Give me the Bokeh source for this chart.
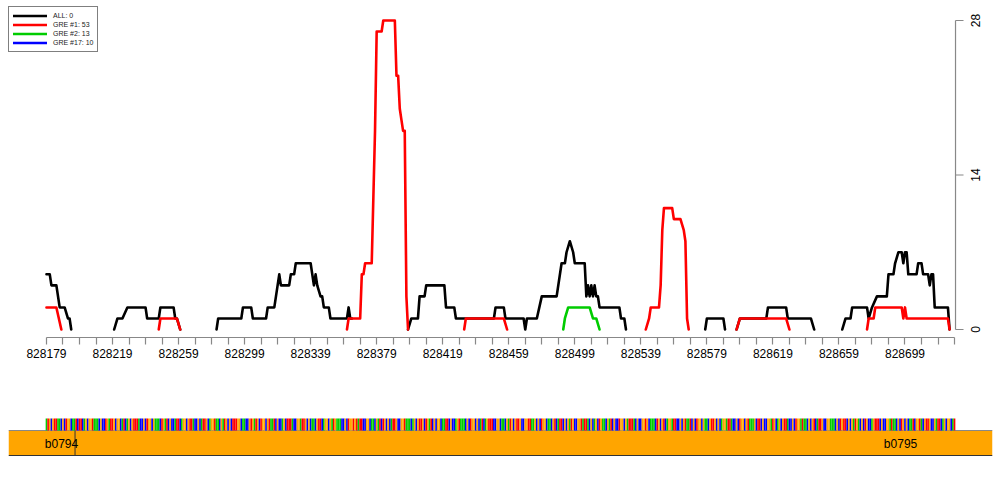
import numpy as np
from bokeh.plotting import figure
from bokeh.models import Range1d, LinearAxis, FixedTicker, Legend, LegendItem, ColumnDataSource
from bokeh.layouts import column
from bokeh.embed import file_html
from bokeh.resources import INLINE

FONT = "Liberation Sans"

# ---------------- data ----------------
REGION_START = 828179
REGION_END = 828729
VIEW_START = 828156.0
VIEW_END = 828752.0
Y_TICKS = [0, 14, 28]

# ALL (black) : positions / values, None = break
ALL_POS = [828179, 828181, 828182, 828185, 828187, 828190, 828192, 828193, 828194, None,
           828220, 828222, 828225, 828228, 828239, 828240, 828247, 828248, 828256, 828257, 828258, 828260, None,
           828282, 828283, 828297, 828298, 828303, 828304, 828312, 828313, 828317, 828318, 828319, 828320, 828321,
           828326, 828327, 828329, 828330, 828339, 828340, 828341, 828342, 828343, 828345, 828346, 828347,
           828350, 828351, 828360, 828361, 828362, 828363, 828364, None,
           828398, 828400, 828404, 828405, 828408, 828409, 828420, 828421, 828426, 828427, 828450, 828451,
           828456, 828457, 828468, 828469, 828470, 828476, 828479, 828488, 828491, 828493, 828494, 828496,
           828498, 828499, 828505, 828506, 828507, 828508, 828509, 828510, 828511, 828512, 828513, 828514,
           828526, 828527, 828529, 828530, None,
           828578, 828579, 828589, 828590, None,
           828597, 828599, 828615, 828616, 828627, 828628, 828642, 828644, None,
           828661, 828663, 828666, 828667, 828676, 828677, 828679, 828682, 828688, 828689, 828692, 828693,
           828695, 828697, 828698, 828699, 828700, 828701, 828706, 828707, 828709, 828710, 828713, 828714,
           828715, 828716, 828717, 828725, 828726]
ALL_VAL = [5, 5, 4, 4, 2, 2, 1, 1, 0, None,
           0, 1, 1, 2, 2, 1, 1, 2, 2, 1, 1, 0, None,
           0, 1, 1, 2, 2, 1, 1, 2, 2, 3, 4, 5, 4,
           4, 5, 5, 6, 6, 5, 4, 5, 4, 3, 3, 2,
           2, 1, 1, 1, 2, 1, 1, None,
           0, 1, 1, 3, 3, 4, 4, 2, 2, 1, 1, 2,
           2, 1, 1, 0, 1, 1, 3, 3, 6, 6, 7, 8,
           7, 6, 6, 3, 4, 3, 4, 3, 4, 3, 3, 2,
           2, 1, 1, 0, None,
           0, 1, 1, 0, None,
           0, 1, 1, 2, 2, 1, 1, 0, None,
           0, 1, 1, 2, 2, 1, 2, 3, 3, 5, 5, 6,
           7, 7, 6, 7, 7, 5, 5, 6, 6, 5, 5, 4,
           5, 5, 2, 2, 0]

# GRE #1 (red)
GRE1_POS = [828179, 828185, 828188, None,
            828247, 828248, 828258, 828260, None,
            828361, 828362, 828369, 828370, 828371, 828372, 828376, 828377, 828378, 828379, 828382, 828383,
            828390, 828391, 828392, 828393, 828394, 828395, 828396, 828397, 828398, None,
            828432, 828433, 828456, 828458, None,
            828542, 828544, 828545, 828550, 828551, 828552, 828553, 828558, 828559, 828563, 828565, 828566,
            828567, 828568, None,
            828597, 828599, 828627, 828629, None,
            828676, 828677, 828680, 828681, 828697, 828698, 828699, 828700, 828725, 828726]
GRE1_VAL = [2, 2, 0, None,
            0, 1, 1, 0, None,
            0, 1, 1, 5, 5, 6, 6, 12, 18, 27, 27, 28,
            28, 23, 23, 20, 19, 18, 18, 3, 0, None,
            0, 1, 1, 0, None,
            0, 1, 2, 2, 4, 9, 11, 11, 10, 10, 9, 8,
            1, 0, None,
            0, 1, 1, 0, None,
            0, 1, 1, 2, 2, 1, 2, 1, 1, 0]

# GRE #2 (green)
GRE2_POS = [828492, 828493, 828495, 828508, 828510, 828512, 828514]
GRE2_VAL = [0, 1, 2, 2, 1, 1, 0]

# GRE #17 (blue) - no visible trace in this window
GRE17_POS = [None]
GRE17_VAL = [None]

LEGEND_LABELS = ["ALL: 0", "GRE #1: 53", "GRE #2: 13", "GRE #17: 10"]
SERIES_COLORS = ["black", "red", "#00CC00", "blue"]

# sequence track
SEQ_LINES = [
    "ATGCGTTAAC GCTGGCAATC TTCAGCGGTA AACGCCTGAT TGCGGCATCA",
    "GCGTTTACCG CTGGCGAAAC TGATCGCCAT TCAGGCGTTA CCGCATTGCA",
    "GGTAACGATG CGCTTTGGCA ACCGTGATGC TGGCGTAATC GCCAGCTTTA",
    "CCGGATTGCG CAACGTTCAG GCGATGAAAC CGCTGGTGTA TTCCGGCAAC",
    "GATCTGCGCA TTGCCGGTAA ACAGCGTTGC TGATCGCGGC AATTCGCCAG",
    "TAAACGCTGG CGCATCAGTT TCCGGCAACG ATGCGTTGCC GGTTAAGCGC",
    "TGGCAACGTC ATTCGCGATG CCGGTATTAC GCAGCTGAAC GATCGCCTGG",
    "CGATTTACGC CGGTGCAAAC TGCGTCAGGA TTCCGCGTAA TCGCTGGCGA",
    "ACGTTGCGCA GGATTACCGC TGGCGTAAAG CTTCGCCGGA TGCAGCGTTA",
    "CCGCTGGATA ACGCGTCATT GCCGGAAACG CTGTTCGCGA TGACGCTGCC",
    "AGTTTCGCCG GATAACGCTG CGCAATCGGT ACGTTGCCGA TTCAGCGGCA",
    "T",
]
BASE_COLORS = {"A": "#00CC00", "C": "#0000FF", "G": "#FFA500", "T": "#FF0000"}

GENE_NAMES = ["b0794", "b0795"]
GENE_LABEL_POS = [828188.1, 828696.3]
GENE_BOUNDARY = 828196.3

# ---------------- top figure ----------------
def arr(v):
    return np.array(v, dtype=float)

PX_PER_BP = 1.6509
p = figure(width=1000, height=388,
           x_range=Range1d(VIEW_START, VIEW_END),
           y_range=Range1d(-0.725, 29.812),
           output_backend="svg", toolbar_location=None,
           x_axis_location=None, y_axis_location=None,
           min_border_left=8, min_border_right=8, min_border_top=0, min_border_bottom=51)
p.grid.visible = False
p.outline_line_color = None
p.background_fill_color = "white"

kw = dict(line_width=2.6, line_join="round", line_cap="round")
r_all = p.line(arr(ALL_POS), arr(ALL_VAL), line_color=SERIES_COLORS[0], **kw)
r_g1 = p.line(arr(GRE1_POS), arr(GRE1_VAL), line_color=SERIES_COLORS[1], **kw)
r_g2 = p.line(arr(GRE2_POS), arr(GRE2_VAL), line_color=SERIES_COLORS[2], **kw)
r_g17 = p.line(arr(GRE17_POS), arr(GRE17_VAL), line_color=SERIES_COLORS[3], **kw)

# bottom x axis (real axis)
xticks = list(range(REGION_START, REGION_END + 1, 10))
overrides = {t: (str(t) if (t - REGION_START) % 40 == 0 and t < REGION_END - 20 else "") for t in xticks}
xaxis = LinearAxis(ticker=FixedTicker(ticks=xticks), bounds=(REGION_START, REGION_END),
                   major_label_overrides=overrides)
xaxis.axis_line_color = "#888888"
xaxis.major_tick_line_color = "#888888"
xaxis.axis_line_width = 1.2
xaxis.major_tick_line_width = 1.2
xaxis.minor_tick_line_color = None
xaxis.major_tick_in = 0
xaxis.major_tick_out = 7
xaxis.major_label_standoff = 4
xaxis.major_label_text_font = FONT
xaxis.major_label_text_font_size = "12px"
xaxis.major_label_text_color = "black"
p.add_layout(xaxis, "below")

# right y axis drawn at the right end of the region
axis_x = REGION_END + 0.6
tick_len = 8 / PX_PER_BP
lab_off = 20 / PX_PER_BP
p.segment(x0=[axis_x], x1=[axis_x], y0=[Y_TICKS[0]], y1=[Y_TICKS[-1]], line_color="#888888", line_width=1.2)
p.segment(x0=[axis_x] * len(Y_TICKS), x1=[axis_x + tick_len] * len(Y_TICKS), y0=Y_TICKS, y1=Y_TICKS,
          line_color="#888888", line_width=1.2)
p.text(x=[axis_x + lab_off] * len(Y_TICKS), y=Y_TICKS, text=[str(t) for t in Y_TICKS], angle=np.pi / 2,
       text_align="center", text_baseline="middle", text_font_size="12px",
       text_font={"value": FONT}, text_color="black")

legend = Legend(items=[LegendItem(label=LEGEND_LABELS[i], renderers=[r])
                       for i, r in enumerate([r_all, r_g1, r_g2, r_g17])],
                location=(0, 285))
legend.label_text_font = FONT
legend.label_text_font_size = "7px"
legend.label_text_color = "#222222"
legend.glyph_width = 34
legend.glyph_height = 9
legend.label_height = 9
legend.label_standoff = 6
legend.spacing = 0
legend.padding = 4
legend.margin = 0
legend.border_line_color = "black"
legend.border_line_width = 1
legend.background_fill_color = "white"
legend.background_fill_alpha = 1
p.add_layout(legend, "center")

# ---------------- bottom (sequence + genes) ----------------
seq = "".join(SEQ_LINES).replace(" ", "")
seq_pos = REGION_START + np.arange(len(seq))
q = figure(width=1000, height=72,
           x_range=Range1d(VIEW_START, VIEW_END), y_range=Range1d(72, 0),
           output_backend="svg", toolbar_location=None,
           x_axis_location=None, y_axis_location=None,
           min_border_left=8, min_border_right=8, min_border_top=0, min_border_bottom=0)
q.grid.visible = False
q.outline_line_color = None

# gene bar
q.quad(left=[VIEW_START], right=[VIEW_END], top=[42], bottom=[67], fill_color="#FFA500", line_color=None)
q.segment(x0=[VIEW_START], x1=[VIEW_END], y0=[42], y1=[42], line_color="#888888", line_width=1.2)
q.segment(x0=[VIEW_START], x1=[VIEW_END], y0=[67], y1=[67], line_color="#333333", line_width=1.2)
q.segment(x0=[GENE_BOUNDARY], x1=[GENE_BOUNDARY], y0=[42], y1=[67], line_color="#333333", line_width=1)

src = ColumnDataSource(dict(left=seq_pos - 0.5, right=seq_pos + 0.5,
                            color=[BASE_COLORS[b] for b in seq]))
q.quad(left="left", right="right", top=30, bottom=42, fill_color="color", line_color=None, source=src)

q.text(x=GENE_LABEL_POS, y=[55, 55], text=GENE_NAMES, text_align="center", text_baseline="middle",
       text_font_size="12px", text_font={"value": FONT}, text_color="black")

layout = column(p, q)
open("out.html", "w").write(file_html(layout, INLINE))
